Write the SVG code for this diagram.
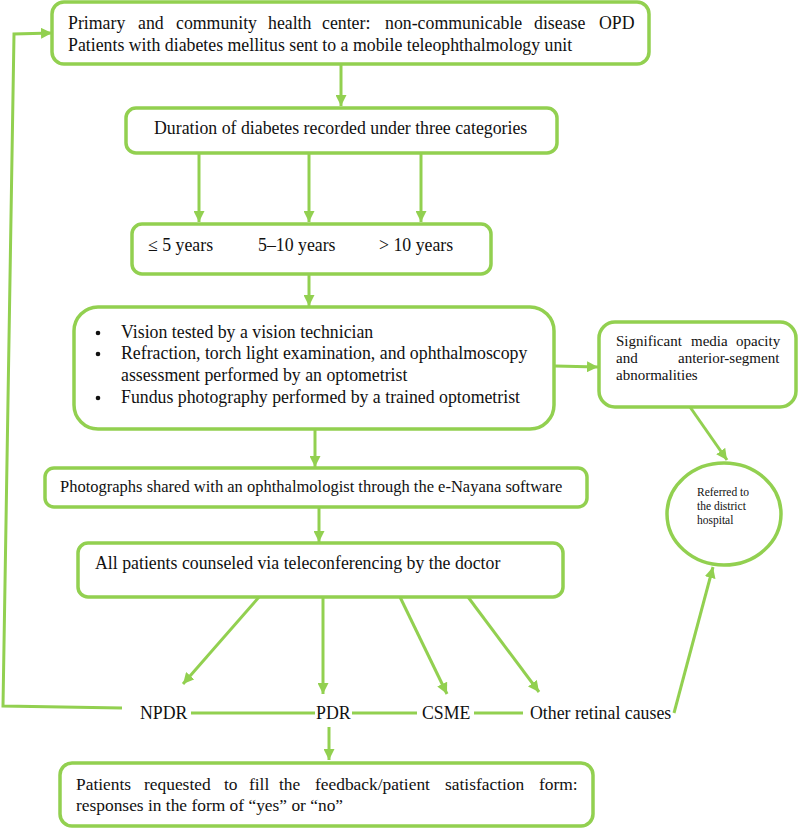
<svg xmlns="http://www.w3.org/2000/svg" width="798" height="828" viewBox="0 0 798 828">
<style>
.box{fill:#fff;stroke:#92D050;stroke-width:3.5}
.ln{fill:none;stroke:#92D050;stroke-width:3}
text{font-family:'Liberation Serif','Times New Roman',serif;fill:#111}
.t{font-size:17.8px}
.s{font-size:15px}
.xs{font-size:11.5px}
</style>
<defs>
<marker id="ah" viewBox="0 0 10 10" refX="10" refY="5" markerWidth="11" markerHeight="11" markerUnits="userSpaceOnUse" orient="auto">
<path d="M0,0 L10,5 L0,10 z" fill="#92D050"/>
</marker>
</defs>
<rect width="798" height="828" fill="#fff"/>
<g id="connectors">
<line class="ln" x1="341" y1="64" x2="341" y2="106" marker-end="url(#ah)"/>
<line class="ln" x1="199" y1="153" x2="199" y2="222" marker-end="url(#ah)"/>
<line class="ln" x1="309" y1="153" x2="309" y2="222" marker-end="url(#ah)"/>
<line class="ln" x1="421" y1="153" x2="421" y2="222" marker-end="url(#ah)"/>
<line class="ln" x1="309" y1="274" x2="309" y2="306" marker-end="url(#ah)"/>
<line class="ln" x1="555" y1="366" x2="598" y2="367" marker-end="url(#ah)"/>
<line class="ln" x1="690" y1="407" x2="727" y2="460" marker-end="url(#ah)"/>
<line class="ln" x1="315" y1="429" x2="315" y2="467" marker-end="url(#ah)"/>
<line class="ln" x1="319" y1="507" x2="319" y2="542" marker-end="url(#ah)"/>
<line class="ln" x1="259" y1="597" x2="183" y2="684" marker-end="url(#ah)"/>
<line class="ln" x1="323" y1="597" x2="323" y2="694" marker-end="url(#ah)"/>
<line class="ln" x1="400" y1="597" x2="447" y2="694" marker-end="url(#ah)"/>
<line class="ln" x1="468" y1="597" x2="539" y2="692" marker-end="url(#ah)"/>
<line class="ln" x1="191" y1="713" x2="315" y2="713"/>
<line class="ln" x1="352" y1="713" x2="417" y2="713"/>
<line class="ln" x1="474" y1="713" x2="523" y2="713"/>
<polyline class="ln" points="674,713 713,567" marker-end="url(#ah)"/>
<polyline class="ln" points="122,708 3,706 14,34 52,33" marker-end="url(#ah)"/>
<line class="ln" x1="329" y1="727" x2="329" y2="760" marker-end="url(#ah)"/>
</g>
<g id="n1">
<rect class="box" x="52" y="2" width="597" height="62" rx="12"/>
<text class="t" y="29"><tspan x="68">Primary</tspan><tspan x="138">and</tspan><tspan x="176">community</tspan><tspan x="268">health</tspan><tspan x="322">center:</tspan><tspan x="385">non-communicable</tspan><tspan x="534">disease</tspan><tspan x="599">OPD</tspan></text>
<text class="t" x="68" y="51">Patients with diabetes mellitus sent to a mobile teleophthalmology unit</text>
</g>
<g id="n2">
<rect class="box" x="126" y="108" width="431" height="45" rx="10"/>
<text class="t" x="154" y="134">Duration of diabetes recorded under three categories</text>
</g>
<g id="n3">
<rect class="box" x="132" y="224" width="359" height="50" rx="10"/>
<text class="t" x="148" y="251">≤ 5 years</text>
<text class="t" x="258" y="251">5–10 years</text>
<text class="t" x="379" y="251">&gt; 10 years</text>
</g>
<g id="n4">
<rect class="box" x="74" y="307" width="480" height="122" rx="24"/>
<circle cx="98" cy="333" r="2.3" fill="#111"/>
<circle cx="98" cy="354" r="2.3" fill="#111"/>
<circle cx="98" cy="398" r="2.3" fill="#111"/>
<text class="t" x="121" y="338">Vision tested by a vision technician</text>
<text class="t" x="121" y="359">Refraction, torch light examination, and ophthalmoscopy</text>
<text class="t" x="121" y="381">assessment performed by an optometrist</text>
<text class="t" x="121" y="403">Fundus photography performed by a trained optometrist</text>
</g>
<g id="n5">
<rect class="box" x="599" y="322" width="197" height="85" rx="16"/>
<text class="s" y="346"><tspan x="616">Significant</tspan><tspan x="691">media</tspan><tspan x="736">opacity</tspan></text>
<text class="s" y="363"><tspan x="616">and</tspan><tspan x="678">anterior-segment</tspan></text>
<text class="s" x="616" y="380">abnormalities</text>
</g>
<g id="n6">
<ellipse cx="724" cy="514" rx="57" ry="51" fill="#fff" stroke="#92D050" stroke-width="3.5"/>
<text class="xs" x="697" y="496">Referred to</text>
<text class="xs" x="697" y="510">the district</text>
<text class="xs" x="697" y="524">hospital</text>
</g>
<g id="n7">
<rect class="box" x="45" y="468" width="542" height="39" rx="9"/>
<text class="t" x="60" y="492" style="font-size:16.5px">Photographs shared with an ophthalmologist through the e-Nayana software</text>
</g>
<g id="n8">
<rect class="box" x="78" y="543" width="485" height="54" rx="10"/>
<text class="t" x="95" y="569">All patients counseled via teleconferencing by the doctor</text>
</g>
<g id="n9"><text class="t" x="140" y="719">NPDR</text></g>
<g id="n10"><text class="t" x="316" y="719">PDR</text></g>
<g id="n11"><text class="t" x="422" y="719">CSME</text></g>
<g id="n12"><text class="t" x="530" y="719">Other retinal causes</text></g>
<g id="n13">
<rect class="box" x="60" y="763" width="533" height="63" rx="12"/>
<text class="t" y="790" style="font-size:17.4px"><tspan x="76">Patients</tspan><tspan x="144">requested</tspan><tspan x="224">to</tspan><tspan x="249">fill</tspan><tspan x="279">the</tspan><tspan x="315">feedback/patient</tspan><tspan x="445">satisfaction</tspan><tspan x="539">form:</tspan></text>
<text class="t" x="76" y="811" style="font-size:17.4px">responses in the form of “yes” or “no”</text>
</g>
</svg>
